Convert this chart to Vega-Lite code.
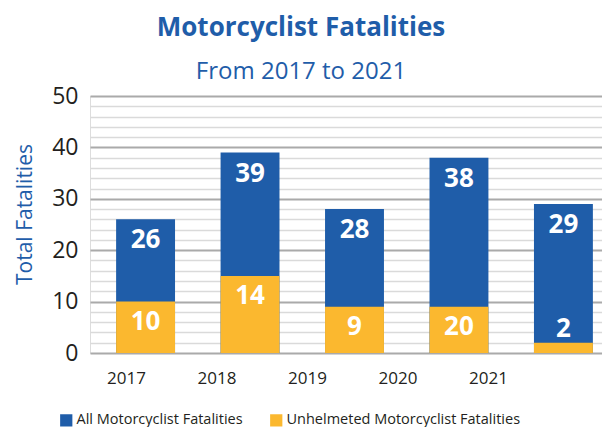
{
  "$schema": "https://vega.github.io/schema/vega-lite/v6.json",
  "autosize": {"type": "none"},
  "padding": {"left": 90, "top": 96, "right": 0, "bottom": 74},
  "width": 512,
  "height": 257,
  "background": "white",
  "title": {
    "text": "Motorcyclist Fatalities",
    "subtitle": "From 2017 to 2021",
    "anchor": "middle",
    "dx": -45,
    "font": "Open Sans",
    "fontSize": 26,
    "fontWeight": "bold",
    "color": "#1f5da9",
    "subtitleFont": "Open Sans",
    "subtitleFontSize": 24,
    "subtitleColor": "#1f5da9",
    "subtitlePadding": 19,
    "offset": 1
  },
  "data": {
    "values": [
      {"year": "2017", "series": "All Motorcyclist Fatalities", "value": 26, "label": "26"},
      {"year": "2018", "series": "All Motorcyclist Fatalities", "value": 39, "label": "39"},
      {"year": "2019", "series": "All Motorcyclist Fatalities", "value": 28, "label": "28"},
      {"year": "2020", "series": "All Motorcyclist Fatalities", "value": 38, "label": "38"},
      {"year": "2021", "series": "All Motorcyclist Fatalities", "value": 29, "label": "29"},
      {"year": "2017", "series": "Unhelmeted Motorcyclist Fatalities", "value": 10, "label": "10"},
      {"year": "2018", "series": "Unhelmeted Motorcyclist Fatalities", "value": 15, "label": "14"},
      {"year": "2019", "series": "Unhelmeted Motorcyclist Fatalities", "value": 9, "label": "9"},
      {"year": "2020", "series": "Unhelmeted Motorcyclist Fatalities", "value": 9, "label": "20"},
      {"year": "2021", "series": "Unhelmeted Motorcyclist Fatalities", "value": 2, "label": "2"}
    ]
  },
  "layer": [
    {
      "encoding": {
        "x": {
          "field": "year",
          "type": "nominal",
          "axis": null,
          "scale": {"range": [0, 529], "paddingInner": 0.436, "paddingOuter": 0.25}
        },
        "y": {
          "field": "value",
          "type": "quantitative",
          "scale": {"domain": [0, 50], "nice": false},
          "axis": {
            "values": [0, 2, 4, 6, 8, 10, 12, 14, 16, 18, 20, 22, 24, 26, 28, 30, 32, 34, 36, 38, 40, 42, 44, 46, 48, 50],
            "labelExpr": "datum.value % 10 === 0 ? datum.label : ''",
            "grid": true,
            "gridColor": {"condition": {"test": "datum.value % 10 === 0", "value": "#aaaaaa"}, "value": "#dadada"},
            "gridWidth": {"condition": {"test": "datum.value % 10 === 0", "value": 2}, "value": 1.5},
            "domain": false,
            "ticks": false,
            "labelFont": "Open Sans",
            "labelFontSize": 23,
            "labelColor": "#231f20",
            "labelPadding": 12,
            "title": "Total Fatalities",
            "titleFont": "Open Sans",
            "titleFontSize": 21,
            "titleFontWeight": "normal",
            "titleColor": "#1f5da9",
            "titleY": 118,
            "titlePadding": 16
          }
        }
      },
      "layer": [
        {
          "mark": {"type": "bar"},
          "encoding": {
            "color": {
              "field": "series",
              "type": "nominal",
              "sort": null,
              "scale": {
                "domain": ["All Motorcyclist Fatalities", "Unhelmeted Motorcyclist Fatalities"],
                "range": ["#1f5da9", "#fbb82f"]
              },
              "legend": {
                "title": null,
                "orient": "none",
                "direction": "horizontal",
                "legendX": -31,
                "legendY": 317,
                "symbolType": "square",
                "symbolSize": 150,
                "symbolStrokeWidth": 0,
                "symbolOpacity": 1,
                "labelFont": "Open Sans",
                "labelFontSize": 14.5,
                "labelColor": "#231f20",
                "labelOffset": 3,
                "columnPadding": 26,
                "labelLimit": 400
              }
            },
            "y": {"field": "value", "type": "quantitative", "stack": null}
          }
        },
        {
          "transform": [{"filter": "datum.series === 'All Motorcyclist Fatalities'"}],
          "mark": {"type": "text", "color": "white", "font": "Open Sans", "fontWeight": "bold", "fontSize": 26, "baseline": "middle", "dy": 21},
          "encoding": {"text": {"field": "label"}}
        },
        {
          "transform": [{"filter": "datum.series === 'Unhelmeted Motorcyclist Fatalities' && datum.value >= 5"}],
          "mark": {"type": "text", "color": "white", "font": "Open Sans", "fontWeight": "bold", "fontSize": 26, "baseline": "middle", "dy": 20},
          "encoding": {"text": {"field": "label"}}
        },
        {
          "transform": [{"filter": "datum.series === 'Unhelmeted Motorcyclist Fatalities' && datum.value < 5"}],
          "mark": {"type": "text", "color": "white", "font": "Open Sans", "fontWeight": "bold", "fontSize": 26, "baseline": "middle", "dy": -14},
          "encoding": {"text": {"field": "label"}}
        }
      ]
    },
    {
      "mark": {"type": "point", "opacity": 0},
      "encoding": {
        "x": {
          "field": "year",
          "type": "ordinal",
          "scale": {"type": "point", "range": [36, 398], "padding": 0},
          "axis": {
            "orient": "bottom",
            "title": null,
            "domain": false,
            "ticks": false,
            "labelAngle": 0,
            "labelFont": "Open Sans",
            "labelFontSize": 17,
            "labelColor": "#231f20",
            "labelPadding": 17
          }
        }
      }
    }
  ],
  "resolve": {"scale": {"x": "independent"}}
}
